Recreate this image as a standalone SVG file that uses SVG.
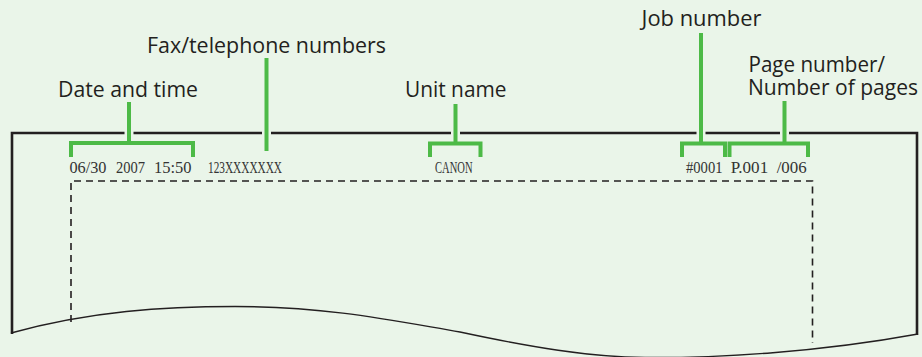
<svg xmlns="http://www.w3.org/2000/svg" width="922" height="357" viewBox="0 0 922 357">
<style>
.lbl{font-family:"Open Sans","Noto Sans","Liberation Sans",sans-serif;font-size:22px;fill:#231f20}
.sm{font-size:21px}
.mono{font-family:"Liberation Serif","DejaVu Serif",serif;font-size:16.5px;fill:#333333}
.grn{fill:none;stroke:#4dba47;stroke-width:4;stroke-linecap:butt;stroke-linejoin:miter}
.gap{stroke:#eaf5e9;stroke-width:9}
.paper{fill:none;stroke:#231f20;stroke-width:2.6}
.wave{fill:none;stroke:#231f20;stroke-width:1.4}
.dash{fill:none;stroke:#231f20;stroke-width:1.6;stroke-dasharray:7 5}
</style>
<rect width="922" height="357" fill="#eaf5e9"/>
<g id="paper">
<path class="paper" d="M12,334 V133 H917 V335"/>
<path class="wave" d="M11,333 C90,311 165,306.5 235,306.5 C330,306.5 400,322 460,332 C530,347 590,357 645,357.5 C720,358 820,352 918,334"/>
<path class="dash" d="M71,322 V181 H812.5 V343"/>
</g>
<g id="connectors">
<line class="gap" x1="129" y1="129" x2="129" y2="137"/>
<line class="gap" x1="266.5" y1="129" x2="266.5" y2="137"/>
<line class="gap" x1="455.5" y1="129" x2="455.5" y2="137"/>
<line class="gap" x1="701" y1="129" x2="701" y2="137"/>
<line class="gap" x1="784.5" y1="129" x2="784.5" y2="137"/>
<path class="grn" d="M129,102 V143 M71,157 V143 H193 V157"/>
<line class="grn" x1="266.5" y1="58" x2="266.5" y2="151"/>
<path class="grn" d="M455.5,104 V143.5 M430,157 V143.5 H480.5 V157"/>
<path class="grn" d="M701,33 V143.5 M682,157 V143.5 H725 V157"/>
<path class="grn" d="M784.5,101 V143.5 M729.5,157 V143.5 H808 V157"/>
</g>
<g id="date-time">
<text class="lbl" x="58" y="97" textLength="140" lengthAdjust="spacingAndGlyphs">Date and time</text>
<text class="mono" x="69.5" y="172.5" textLength="37" lengthAdjust="spacingAndGlyphs">06/30</text>
<text class="mono" x="116" y="172.5" textLength="29" lengthAdjust="spacingAndGlyphs">2007</text>
<text class="mono" x="154" y="172.5" textLength="37.5" lengthAdjust="spacingAndGlyphs">15:50</text>
</g>
<g id="fax-numbers">
<text class="lbl" x="147" y="52.5" textLength="239" lengthAdjust="spacingAndGlyphs">Fax/telephone numbers</text>
<text class="mono" x="208" y="172.5" textLength="74" lengthAdjust="spacingAndGlyphs">123XXXXXXX</text>
</g>
<g id="unit-name">
<text class="lbl" x="405" y="97.3" textLength="101.5" lengthAdjust="spacingAndGlyphs">Unit name</text>
<text class="mono" x="435" y="172.5" textLength="37.5" lengthAdjust="spacingAndGlyphs">CANON</text>
</g>
<g id="job-number">
<text class="lbl" x="641.5" y="26" textLength="120" lengthAdjust="spacingAndGlyphs">Job number</text>
<text class="mono" x="686" y="172.5" textLength="36.5" lengthAdjust="spacingAndGlyphs">#0001</text>
</g>
<g id="page-number">
<text class="lbl sm"><tspan x="748.5" y="71.7" textLength="136.5" lengthAdjust="spacingAndGlyphs">Page number/</tspan><tspan x="748" y="95" textLength="170" lengthAdjust="spacingAndGlyphs">Number of pages</tspan></text>
<text class="mono" x="730.7" y="172.5" textLength="37.5" lengthAdjust="spacingAndGlyphs">P.001</text>
<text class="mono" x="776.7" y="172.5" textLength="30" lengthAdjust="spacingAndGlyphs">/006</text>
</g>
</svg>
